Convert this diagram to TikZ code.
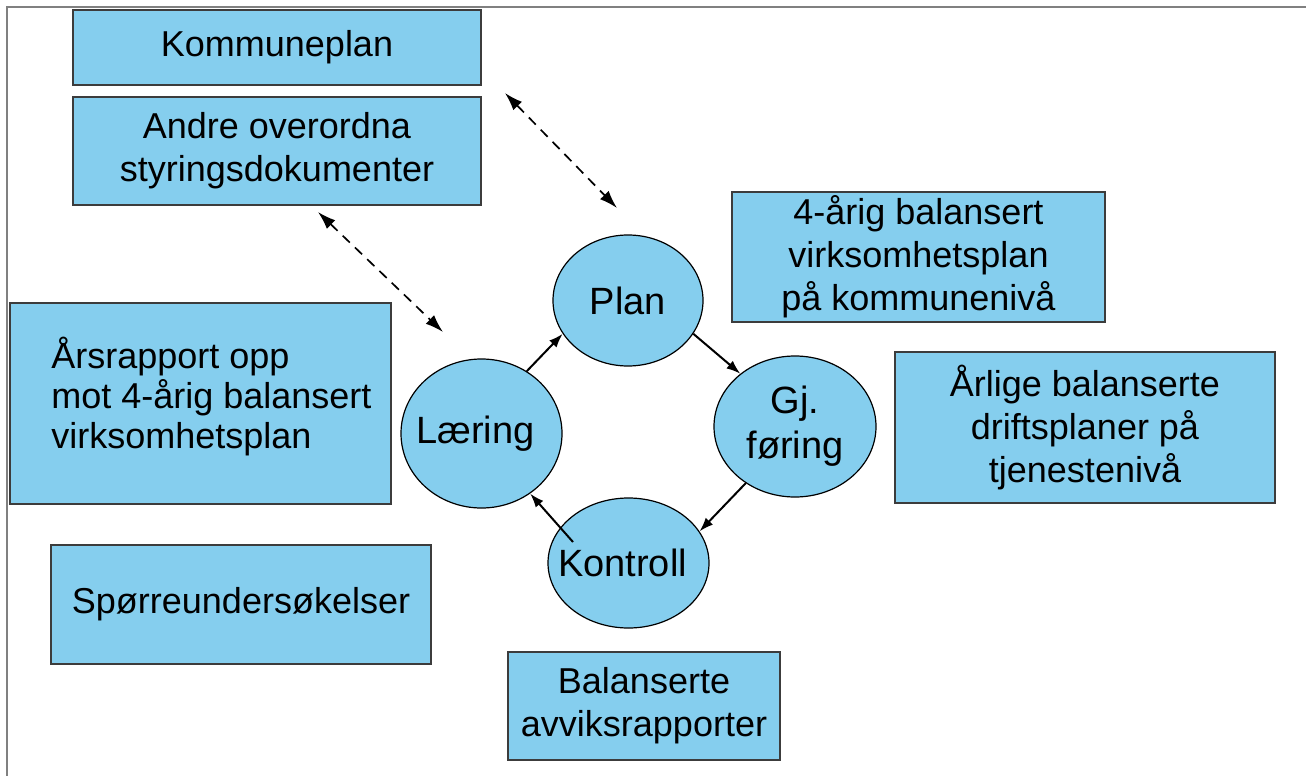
\documentclass[tikz,border=0pt]{standalone}
\usepackage{fontspec}
\setmainfont{Liberation Sans}
\usetikzlibrary{shapes.geometric,arrows.meta}
\definecolor{boxblue}{RGB}{133,206,238}
\definecolor{edgegray}{RGB}{60,60,60}

\begin{document}
\begin{tikzpicture}[x=0.5pt, y=-0.5pt,
        box/.style = {draw=edgegray, line width=0.7pt, fill=boxblue, inner sep=0pt, align=center, font=\fontsize{18}{21.5}\selectfont},
        circ/.style = {ellipse, draw=black, line width=0.6pt, fill=boxblue, inner sep=0pt},
        circtext/.style = {align=center, inner sep=0pt, font=\fontsize{19}{22.5}\selectfont},
        flow/.style = {-{Latex[length=7pt,width=5pt]}, line width=1pt},
        link/.style = {{Latex[length=9pt,width=6pt]}-{Latex[length=9pt,width=6pt]}, dash pattern=on 5pt off 3.5pt, line width=0.85pt}]
        \useasboundingbox (0,0) rectangle (1306,776);
        \draw[gray, line width=1pt] (7,776) -- (7,7) -- (1306,7);
        % boxes
        \node[box, minimum width=204pt, minimum height=37.5pt] (komplan) at (277,47.5) {Kommuneplan};
        \node[box, minimum width=204pt, minimum height=54pt] (andre) at (277,151) {Andre overordna\\styringsdokumenter};
        \node[box, minimum width=190.5pt, minimum height=100.5pt] (aars) at (200.5,403.5) {};
        \node[anchor=west, align=left, inner sep=0pt, font=\fontsize{18}{20}\selectfont] (aarstext) at (51,397) {Årsrapport opp\\mot 4-årig balansert\\virksomhetsplan};
        \node[box, minimum width=190pt, minimum height=59.5pt] (sporre) at (241,604.5) {Spørreundersøkelser};
        \node[box, minimum width=186.5pt, minimum height=65pt] (fireaar) at (918.5,257) {4-årig balansert\\virksomhetsplan\\på kommunenivå};
        \node[box, minimum width=190pt, minimum height=75.5pt] (aarlige) at (1085,427.5) {Årlige balanserte\\driftsplaner på\\tjenestenivå};
        \node[box, minimum width=136pt, minimum height=54pt] (avvik) at (644,706) {Balanserte\\avviksrapporter};
        % cycle
        \node[circ, minimum width=75pt, minimum height=65.5pt, label={[circtext]center:Plan}] (plan) at (628,300.5) {};
        \node[circ, minimum width=81pt, minimum height=70.5pt, label={[circtext]center:Gj.\\føring}] (gj) at (795,426.5) {};
        \node[circ, minimum width=80.5pt, minimum height=74.5pt, label={[circtext, xshift=-3pt]center:Læring}] (laer) at (481.5,433.5) {};
        \node[circ, minimum width=80.5pt, minimum height=65pt, label={[circtext, xshift=-3pt]center:Kontroll}] (kon) at (628.5,563) {};
        \draw[flow] (laer.54) -- (plan.207);
        \draw[flow] (plan.333) -- (gj.136);
        \draw[flow] (gj.229) -- (kon.24);
        \coordinate (konin) at (573,542);
        \draw[flow] (konin) -- (laer.309);
        % dashed links
        \coordinate (linkatop) at (505,93);
        \coordinate (linkaend) at (617,208);
        \coordinate (linkbtop) at (318,212);
        \coordinate (linkbend) at (443,332);
        \draw[link] (linkatop) -- (linkaend);
        \draw[link] (linkbtop) -- (linkbend);
\end{tikzpicture}
\end{document}
